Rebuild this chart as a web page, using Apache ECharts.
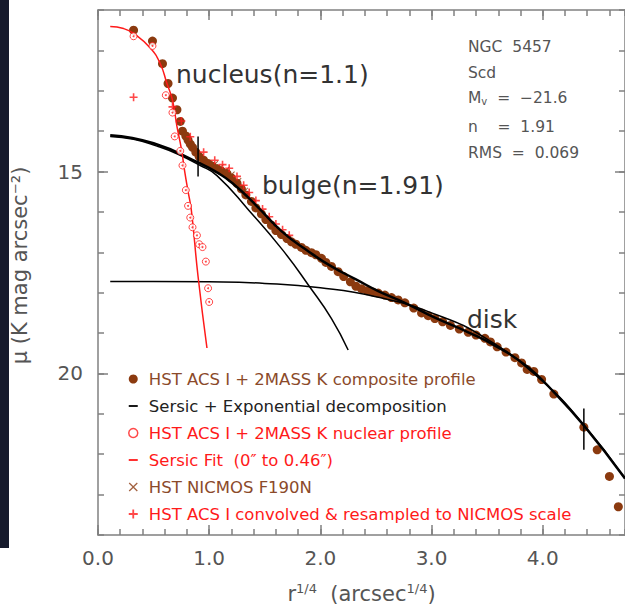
<!DOCTYPE html>
<html>
<head>
<meta charset="utf-8">
<script src="https://cdn.jsdelivr.net/npm/echarts@6/dist/echarts.min.js"></script>
<style>
html,body{margin:0;padding:0;background:#fff;}
#chart{width:625px;height:609px;}
</style>
</head>
<body>
<div id="chart"></div>
<script>
// [r^(1/4), mu] pairs
const compositeProfile = [
  [0.32,11.50],[0.49,11.77],[0.58,12.33],[0.63,12.82],[0.67,13.18],[0.71,13.47],
  [0.74,13.76],[0.76,14.00],[0.79,14.12],[0.81,14.22],[0.83,14.32],[0.85,14.40],
  [0.88,14.52],[0.91,14.63],[0.95,14.72],[0.99,14.80],[1.03,14.87],[1.07,14.93],
  [1.11,14.99],[1.16,15.05],[1.20,15.16],[1.25,15.29],[1.29,15.43],[1.33,15.58],
  [1.38,15.74],[1.42,15.90],[1.47,16.05],[1.51,16.19],[1.56,16.33],[1.60,16.46],
  [1.65,16.56],[1.70,16.66],[1.74,16.74],[1.78,16.80],[1.83,16.88],[1.87,16.95],
  [1.92,17.01],[1.96,17.06],[2.01,17.15],[2.05,17.25],[2.10,17.35],[2.16,17.48],
  [2.21,17.60],[2.27,17.73],[2.32,17.84],[2.37,17.90],[2.42,17.95],[2.47,17.98],
  [2.52,18.01],[2.58,18.06],[2.64,18.12],[2.70,18.18],[2.76,18.25],[2.84,18.38],
  [2.91,18.50],[2.97,18.57],[3.03,18.64],[3.10,18.72],[3.17,18.81],[3.25,18.90],
  [3.33,18.98],[3.40,19.05],[3.48,19.13],[3.53,19.22],[3.59,19.34],[3.67,19.47],
  [3.75,19.61],[3.81,19.74],[3.86,19.90],[3.92,19.95],[3.99,20.15],[4.10,20.51],
  [4.37,21.33],[4.49,21.89],[4.60,22.55],[4.68,23.30]
];
const nuclearProfile = [
  [0.32,11.65],[0.49,11.89],[0.61,13.11],[0.67,13.54],[0.69,14.13],[0.74,14.49],
  [0.76,14.85],[0.79,15.46],[0.81,15.85],[0.83,16.14],[0.85,16.38],[0.89,16.58],
  [0.91,16.80],[0.94,16.87],[0.97,17.23],[0.99,17.89],[1.00,18.23]
];
const convolvedProfile = [
  [0.32,13.16],[0.67,13.40],[0.75,13.75],[0.83,14.14],[0.95,14.52],[1.05,14.72],
  [1.12,14.83],[1.18,14.92],[1.25,15.12],[1.31,15.34],[1.36,15.52],[1.42,15.72],
  [1.48,15.93],[1.54,16.12],[1.60,16.30],[1.66,16.44],[1.72,16.58]
];
const nicmosProfile = [
  [1.05,14.82],[1.10,14.90],[1.15,14.97],[1.20,15.08],[1.26,15.24],[1.32,15.48]
];
const nucleusFit = [
  [0.11,11.41],[0.23,11.46],[0.32,11.58],[0.47,11.94],[0.56,12.33],[0.62,12.82],
  [0.67,13.23],[0.71,13.88],[0.75,14.44],[0.78,15.00],[0.81,15.49],[0.84,15.97],
  [0.90,17.60],[0.98,19.37]
];
const bulgeFit = [
  [0.11,14.13],[0.32,14.20],[0.53,14.37],[0.71,14.56],[0.92,14.85],[1.07,15.10],
  [1.36,15.97],[1.66,16.94],[1.90,17.84],[2.10,18.64],[2.25,19.42]
];
const diskFit = [
  [0.11,17.72],[0.50,17.72],[1.00,17.73],[1.50,17.77],[2.00,17.88],[2.50,18.10],
  [3.00,18.50],[3.50,19.15],[4.00,20.20],[4.37,21.27],[4.74,22.60]
];
const totalFit = [
  [0.11,14.10],[0.50,14.30],[0.92,14.80],[1.07,15.02],[1.21,15.29],[1.42,15.83],
  [1.66,16.50],[1.90,16.99],[2.10,17.35],[2.32,17.67],[2.52,17.96],[2.76,18.25],
  [3.03,18.62],[3.33,18.98],[3.59,19.34],[3.86,19.83],[4.10,20.46],[4.37,21.29],
  [4.74,22.60]
];
const errorBars = [
  [[0.90,14.13],[0.90,15.12]],
  [[4.37,20.87],[4.37,21.89]]
];
const xMajorTicks = [0, 1, 2, 3, 4];
const yMajorTicks = [15, 20];

const BROWN = '#8B3A0F', RED = '#ff1a1a', AXIS = '#808080', TXT = '#555';
const FONT = 'DejaVu Sans';
const PLUS = 'path://M4,0H6V4H10V6H6V10H4V6H0V4H4Z';
const CROSS = 'path://M1,0L5,4L9,0L10,1L6,5L10,9L9,10L5,6L1,10L0,9L4,5L0,1Z';
const DASH = 'path://M0,0H10V2H0Z';

const names = {
  comp: 'HST ACS I + 2MASS K composite profile',
  dec: 'Sersic + Exponential decomposition',
  nuc: 'HST ACS I + 2MASS K nuclear profile',
  fit: 'Sersic Fit  (0\u2033 to 0.46\u2033)',
  nic: 'HST NICMOS F190N',
  conv: 'HST ACS I convolved & resampled to NICMOS scale'
};

const xAxisBase = {
  type: 'value', min: 0, max: 4.74,
  splitLine: {show: false},
  axisLine: {show: false, onZero: false}
};
const yAxisBase = {
  type: 'value', min: 11, max: 24, inverse: true,
  splitLine: {show: false},
  axisLine: {show: false, onZero: false}
};
const majorTick = vals => ({show: true, inside: true, length: 10, customValues: vals, lineStyle: {color: AXIS, width: 1.5}});
const minorTickAxis = len => ({show: true, inside: true, length: len, lineStyle: {color: AXIS, width: 1.5}});

const chart = echarts.init(document.getElementById('chart'), null, {renderer: 'svg'});
chart.setOption({
  animation: false,
  backgroundColor: '#fff',
  grid: {left: 98, right: -3, top: 10, bottom: 66},
  xAxis: [
    {...xAxisBase, position: 'bottom',
      axisLine: {show: true, onZero: false, lineStyle: {color: AXIS, width: 1.5}},
      axisTick: majorTick(xMajorTicks),
      axisLabel: {customValues: xMajorTicks, formatter: v => v.toFixed(1), color: TXT, fontSize: 20, fontFamily: FONT, margin: 13},
      name: 'r{sup|1/4}  (arcsec{sup|1/4})', nameLocation: 'middle', nameGap: 47,
      nameTextStyle: {color: TXT, fontSize: 21, fontFamily: FONT,
        rich: {sup: {fontSize: 13, fontFamily: FONT, color: TXT, verticalAlign: 'top', padding: [0, 0, 10, 0]}}}
    },
    {...xAxisBase, position: 'bottom', interval: 0.2, axisTick: minorTickAxis(6), axisLabel: {show: false}},
    {...xAxisBase, position: 'top',
      axisLine: {show: true, onZero: false, lineStyle: {color: AXIS, width: 1.5}},
      axisTick: majorTick(xMajorTicks), axisLabel: {show: false}},
    {...xAxisBase, position: 'top', interval: 0.2, axisTick: minorTickAxis(6), axisLabel: {show: false}}
  ],
  yAxis: [
    {...yAxisBase, position: 'left',
      axisLine: {show: true, onZero: false, lineStyle: {color: AXIS, width: 1.5}},
      axisTick: majorTick(yMajorTicks),
      axisLabel: {customValues: yMajorTicks, color: TXT, fontSize: 20, fontFamily: FONT, margin: 15},
      name: '\u03bc (K mag arcsec\u207b\u00b2)', nameLocation: 'middle', nameGap: 68, nameRotate: 90,
      nameTextStyle: {color: TXT, fontSize: 21, fontFamily: FONT, padding: [0, 0, 0, 14]}
    },
    {...yAxisBase, position: 'left', interval: 1, axisTick: minorTickAxis(6), axisLabel: {show: false}},
    {...yAxisBase, position: 'right',
      axisLine: {show: true, onZero: false, lineStyle: {color: AXIS, width: 1.5}},
      axisTick: majorTick(yMajorTicks), axisLabel: {show: false}},
    {...yAxisBase, position: 'right', interval: 1, axisTick: minorTickAxis(6), axisLabel: {show: false}}
  ],
  legend: {
    orient: 'vertical', left: 123, top: 365, itemWidth: 9, itemHeight: 9, itemGap: 9,
    selectedMode: false,
    textStyle: {fontFamily: FONT, fontSize: 16.5, lineHeight: 18, padding: [0, 0, 0, 6]},
    data: [
      {name: names.comp, icon: 'circle', textStyle: {color: '#8B4A2A'}},
      {name: names.dec, icon: DASH, textStyle: {color: '#222'}},
      {name: names.nuc, icon: 'circle', itemStyle: {color: '#fff', borderColor: RED, borderWidth: 1.5}, textStyle: {color: RED}},
      {name: names.fit, icon: DASH, textStyle: {color: RED}},
      {name: names.nic, icon: CROSS, textStyle: {color: '#8B4A2A'}},
      {name: names.conv, icon: PLUS, textStyle: {color: RED}}
    ]
  },
  graphic: [
    {type: 'rect', left: 0, top: 0, shape: {width: 9, height: 548}, style: {fill: '#161a2c'}, silent: true},
    {type: 'text', x: 176, y: 74, style: {text: 'nucleus(n=1.1)', font: '25px "DejaVu Sans"', fill: '#333', verticalAlign: 'middle'}},
    {type: 'text', x: 262, y: 185, style: {text: 'bulge(n=1.91)', font: '25px "DejaVu Sans"', fill: '#333', verticalAlign: 'middle'}},
    {type: 'text', x: 467, y: 319, style: {text: 'disk', font: '25px "DejaVu Sans"', fill: '#333', verticalAlign: 'middle'}},
    {type: 'text', x: 468, y: 47, style: {text: 'NGC  5457', font: '15.5px "DejaVu Sans"', fill: TXT, verticalAlign: 'middle'}},
    {type: 'text', x: 468, y: 73, style: {text: 'Scd', font: '15.5px "DejaVu Sans"', fill: TXT, verticalAlign: 'middle'}},
    {type: 'text', x: 468, y: 98, style: {text: 'M{s|v}  =  \u221221.6', font: '15.5px "DejaVu Sans"', fill: TXT, verticalAlign: 'middle',
      rich: {s: {fontSize: 10, fontFamily: FONT, fill: TXT, verticalAlign: 'bottom', padding: [6, 0, 0, 0]}}}},
    {type: 'text', x: 468, y: 127, style: {text: 'n    =  1.91', font: '15.5px "DejaVu Sans"', fill: TXT, verticalAlign: 'middle'}},
    {type: 'text', x: 468, y: 153, style: {text: 'RMS  =  0.069', font: '15.5px "DejaVu Sans"', fill: TXT, verticalAlign: 'middle'}}
  ],
  series: [
    {name: names.dec, type: 'line', data: diskFit, smooth: true, symbol: 'none', color: '#000', lineStyle: {color: '#000', width: 1.5}, z: 3},
    {name: names.dec, type: 'line', data: bulgeFit, smooth: true, symbol: 'none', color: '#000', lineStyle: {color: '#000', width: 1.5}, z: 3},
    {name: names.nic, type: 'scatter', data: nicmosProfile, symbol: CROSS, symbolSize: 7, itemStyle: {color: BROWN}, z: 2},
    {name: names.comp, type: 'scatter', data: compositeProfile, symbol: 'circle', symbolSize: 9, itemStyle: {color: BROWN, opacity: 1}, z: 2},
    {name: names.conv, type: 'scatter', data: convolvedProfile, symbol: PLUS, symbolSize: 8, itemStyle: {color: RED}, z: 3},
    {name: names.dec, type: 'line', data: totalFit, smooth: true, symbol: 'none', color: '#000', lineStyle: {color: '#000', width: 2.5}, z: 4},
    {name: names.fit, type: 'line', data: nucleusFit, smooth: true, symbol: 'none', color: RED, lineStyle: {color: RED, width: 1.5}, z: 5},
    {name: names.nuc, type: 'scatter', data: nuclearProfile, symbol: 'circle', symbolSize: 7,
      itemStyle: {color: '#fff', borderColor: RED, borderWidth: 1}, z: 5},
    {name: 'nuclear centres', type: 'scatter', data: nuclearProfile, symbol: 'circle', symbolSize: 2, itemStyle: {color: RED}, z: 6},
    ...errorBars.map((seg, i) => ({
      name: 'error bar ' + (i + 1), type: 'line', data: seg, symbol: 'none',
      lineStyle: {color: '#000', width: 1.5}, z: 6
    }))
  ]
});
</script>
</body>
</html>
